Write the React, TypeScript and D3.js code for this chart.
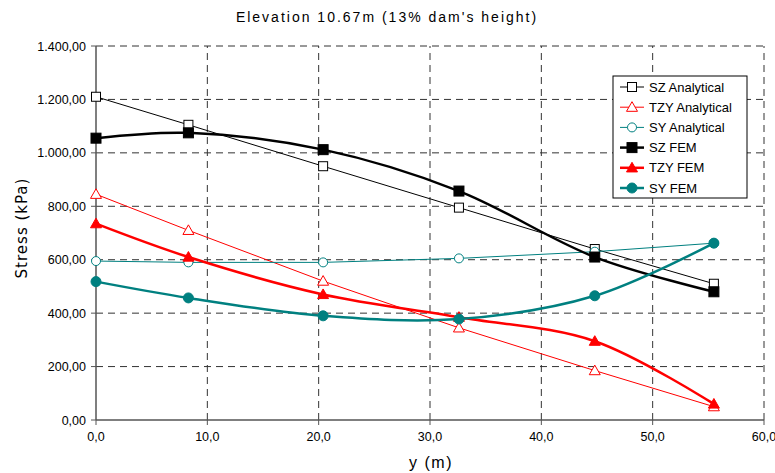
import React from "react";
import * as d3 from "d3";

const xPos = [0, 8.3, 20.4, 32.6, 44.8, 55.5];
const szAnalytical = [1210, 1105, 950, 795, 640, 510];
const tzyAnalytical = [845, 710, 520, 345, 185, 50];
const syAnalytical = [595, 590, 590, 605, 630, 662];
const szFem = [1055, 1075, 1012, 857, 610, 480];
const tzyFem = [735, 610, 470, 385, 295, 60];
const syFem = [518, 457, 390, 378, 465, 662];

const xTicks = [0, 10, 20, 30, 40, 50, 60];
const yTicks = [0, 200, 400, 600, 800, 1000, 1200, 1400];

type S = { name: string; values: number[]; color: string; width: number; marker: string; fill: boolean; smooth: boolean };
const series: S[] = [
  { name: "SZ Analytical", values: szAnalytical, color: "#000000", width: 1, marker: "square", fill: false, smooth: false },
  { name: "TZY Analytical", values: tzyAnalytical, color: "#ff0000", width: 1, marker: "triangle", fill: false, smooth: false },
  { name: "SY Analytical", values: syAnalytical, color: "#008080", width: 1, marker: "circle", fill: false, smooth: false },
  { name: "SZ FEM", values: szFem, color: "#000000", width: 2.5, marker: "square", fill: true, smooth: true },
  { name: "TZY FEM", values: tzyFem, color: "#ff0000", width: 2.5, marker: "triangle", fill: true, smooth: true },
  { name: "SY FEM", values: syFem, color: "#008080", width: 2.5, marker: "circle", fill: true, smooth: true },
];

const fmtY = (v: number) => {
  const s = v.toFixed(2).replace(".", ",");
  const [i, d] = s.split(",");
  return i.replace(/\B(?=(\d{3})+(?!\d))/g, ".") + "," + d;
};
const fmtX = (v: number) => v.toFixed(1).replace(".", ",");

function Marker({ kind, fill, color, x, y }: { kind: string; fill: boolean; color: string; x: number; y: number }) {
  const f = fill ? color : "#ffffff";
  if (kind === "square") {
    const s = fill ? 10 : 9;
    return <rect x={x - s / 2} y={y - s / 2} width={s} height={s} fill={f} stroke={color} strokeWidth={1} />;
  }
  if (kind === "triangle") {
    const s = 5.5;
    return <path d={`M${x},${y - s} L${x + s},${y + s * 0.75} L${x - s},${y + s * 0.75} Z`} fill={f} stroke={color} strokeWidth={1} />;
  }
  return <circle cx={x} cy={y} r={fill ? 5 : 4.5} fill={f} stroke={color} strokeWidth={1} />;
}

export default function App() {
  const W = 775, H = 473;
  const x = d3.scaleLinear().domain([0, 60]).range([96, 764]);
  const y = d3.scaleLinear().domain([0, 1400]).range([420, 46]);
  const font = "'Liberation Sans', Arial, sans-serif";
  const legendX = 613, legendY = 76, legendW = 134, legendH = 122;
  return (
    <svg width={W} height={H} style={{ position: "absolute", left: 0, top: 0 }} fontFamily={font}>
      <rect width={W} height={H} fill="#ffffff" />
      <text x={387} y={22} textAnchor="middle" fontSize={14} letterSpacing={2}>Elevation 10.67m (13% dam's height)</text>
      {/* grid */}
      {yTicks.filter((t) => t > 0).map((t) => (
        <line key={"gy" + t} x1={x(0)} x2={x(60)} y1={y(t)} y2={y(t)} stroke="#333" strokeWidth={1} strokeDasharray="7,5" />
      ))}
      {xTicks.filter((t) => t > 0).map((t) => (
        <line key={"gx" + t} x1={x(t)} x2={x(t)} y1={y(0)} y2={y(1400)} stroke="#333" strokeWidth={1} strokeDasharray="7,5" />
      ))}
      {/* axes */}
      <line x1={x(0)} x2={x(0)} y1={y(0)} y2={y(1400)} stroke="#555" strokeWidth={1.5} />
      <line x1={x(0)} x2={x(60)} y1={y(0)} y2={y(0)} stroke="#555" strokeWidth={1.5} />
      {yTicks.map((t) => (
        <g key={"ty" + t}>
          <line x1={x(0) - 5} x2={x(0)} y1={y(t)} y2={y(t)} stroke="#555" />
          <text x={x(0) - 10} y={y(t) + 4.5} textAnchor="end" fontSize={12.5}>{fmtY(t)}</text>
        </g>
      ))}
      {xTicks.map((t) => (
        <g key={"tx" + t}>
          <line x1={x(t)} x2={x(t)} y1={y(0)} y2={y(0) + 5} stroke="#555" />
          <text x={x(t)} y={y(0) + 21} textAnchor="middle" fontSize={12.5}>{fmtX(t)}</text>
        </g>
      ))}
      <text x={0} y={0} transform={`translate(27,228) rotate(-90)`} textAnchor="middle" fontSize={15} letterSpacing={1} fontFamily="'DejaVu Sans', sans-serif">Stress (kPa)</text>
      <text x={431} y={468} textAnchor="middle" fontSize={16} letterSpacing={1.5}>y (m)</text>
      {/* series */}
      {series.map((s) => {
        const pts: [number, number][] = s.values.map((v, i) => [x(xPos[i]), y(v)]);
        const gen = d3.line().curve(s.smooth ? d3.curveCatmullRom.alpha(0.5) : d3.curveLinear);
        return (
          <g key={s.name}>
            <path d={gen(pts) || ""} fill="none" stroke={s.color} strokeWidth={s.width} />
            {pts.map((p, i) => (
              <Marker key={i} kind={s.marker} fill={s.fill} color={s.color} x={p[0]} y={p[1]} />
            ))}
          </g>
        );
      })}
      {/* legend */}
      <rect x={legendX} y={legendY} width={legendW} height={legendH} fill="#ffffff" stroke="#000" strokeWidth={1} />
      {series.map((s, i) => {
        const cy = legendY + 11 + i * 20.2;
        return (
          <g key={"lg" + s.name}>
            <line x1={legendX + 7} x2={legendX + 31} y1={cy} y2={cy} stroke={s.color} strokeWidth={s.width} />
            <Marker kind={s.marker} fill={s.fill} color={s.color} x={legendX + 19} y={cy} />
            <text x={legendX + 36} y={cy + 4.5} fontSize={13}>{s.name}</text>
          </g>
        );
      })}
    </svg>
  );
}
